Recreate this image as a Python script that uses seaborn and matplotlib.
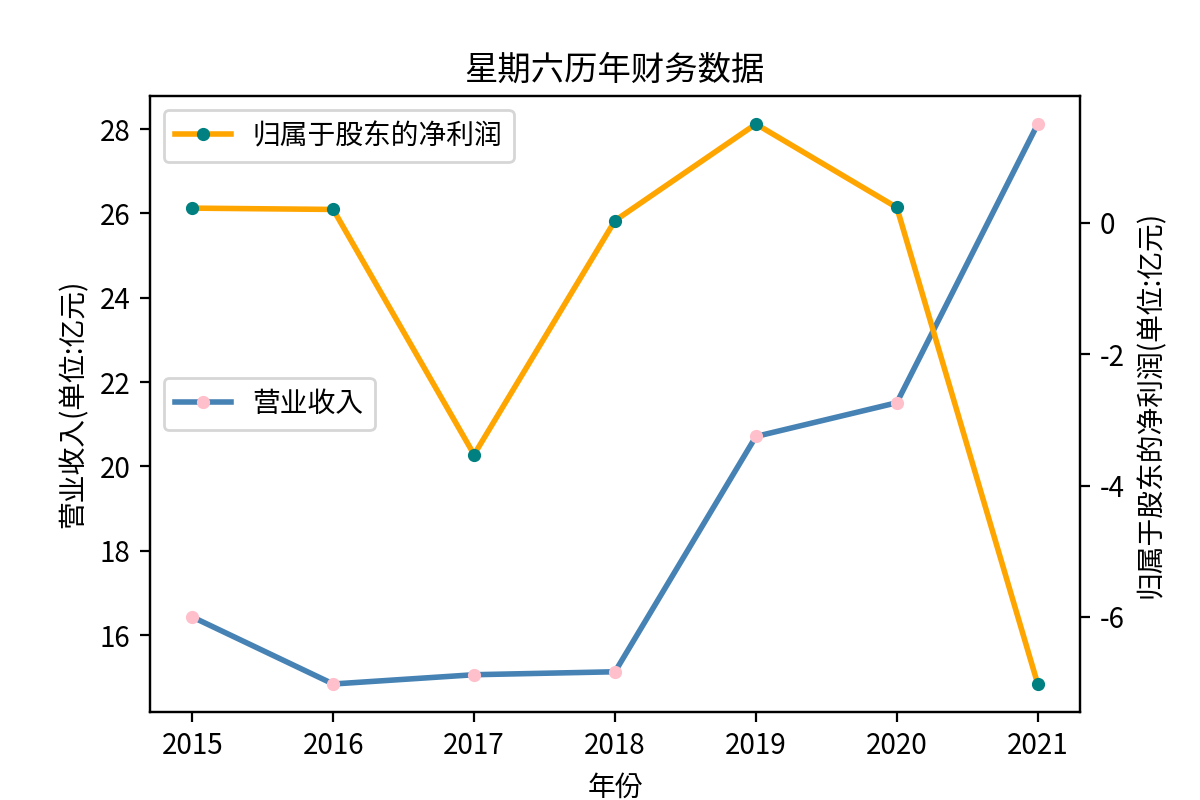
import matplotlib
matplotlib.use("Agg")
import matplotlib.pyplot as plt
import seaborn as sns
import pandas as pd

plt.rcParams["font.family"] = "sans-serif"
plt.rcParams["font.sans-serif"] = ["Noto Sans CJK SC", "Noto Sans CJK JP", "Noto Sans CJK TC",
                                   "Noto Sans CJK KR", "DejaVu Sans"]
plt.rcParams["axes.unicode_minus"] = False

years = [2015, 2016, 2017, 2018, 2019, 2020, 2021]
revenue = [16.43, 14.84, 15.06, 15.13, 20.71, 21.51, 28.12]
profit = [0.22, 0.20, -3.53, 0.03, 1.50, 0.23, -7.02]

df = pd.DataFrame({"年份": years, "营业收入": revenue, "归属于股东的净利润": profit})

fig, ax = plt.subplots(figsize=(6, 4), dpi=200)
sns.lineplot(data=df, x="年份", y="营业收入", ax=ax, color="steelblue", linewidth=2,
             marker=".", markersize=8, markerfacecolor="pink", markeredgecolor="pink",
             label="营业收入")
ax2 = ax.twinx()
sns.lineplot(data=df, x="年份", y="归属于股东的净利润", ax=ax2, color="orange", linewidth=2,
             marker=".", markersize=8, markerfacecolor="teal", markeredgecolor="teal",
             label="归属于股东的净利润")
ax.set_ylabel("营业收入(单位:亿元)")
ax2.set_ylabel("归属于股东的净利润(单位:亿元)")
ax.set_xlabel("年份")
ax.set_xticks(years)
ax.set_title("星期六历年财务数据")
ax.legend(loc="center left")
ax2.legend(loc="upper left")
fig.savefig("out.png", dpi=200)
